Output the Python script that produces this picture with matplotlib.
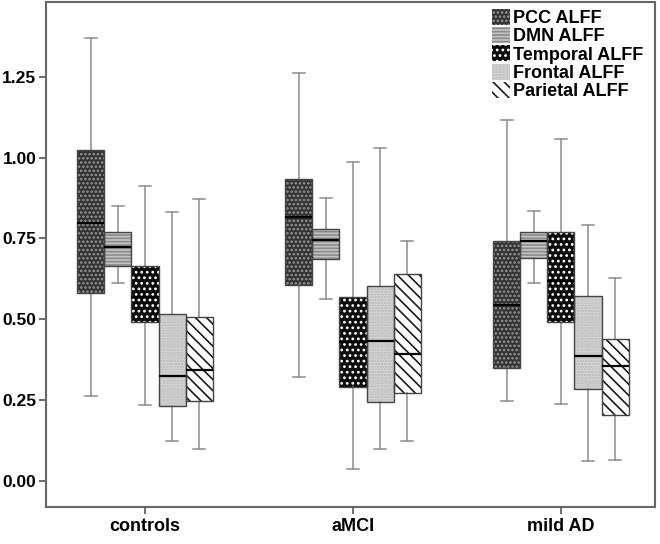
import matplotlib.pyplot as plt
from matplotlib.patches import PathPatch

plt.rcParams['font.family'] = ['Liberation Sans', 'DejaVu Sans']
plt.rcParams['hatch.linewidth'] = 1.2

groups = ["controls", "aMCI", "mild AD"]
series = ["PCC ALFF", "DMN ALFF", "Temporal ALFF", "Frontal ALFF", "Parietal ALFF"]

# box stats, one list per series: controls, aMCI, mild AD
pcc_whislo = [0.263, 0.322, 0.248]
pcc_q1 = [0.581, 0.606, 0.351]
pcc_med = [0.797, 0.815, 0.545]
pcc_q3 = [1.024, 0.933, 0.743]
pcc_whishi = [1.37, 1.262, 1.115]

dmn_whislo = [0.611, 0.563, 0.611]
dmn_q1 = [0.665, 0.687, 0.689]
dmn_med = [0.725, 0.746, 0.741]
dmn_q3 = [0.769, 0.780, 0.769]
dmn_whishi = [0.851, 0.875, 0.835]

tmp_whislo = [0.235, 0.039, 0.238]
tmp_q1 = [0.491, 0.290, 0.491]
tmp_med = [0.57, 0.43, 0.62]
tmp_q3 = [0.665, 0.570, 0.769]
tmp_whishi = [0.913, 0.985, 1.057]

frn_whislo = [0.124, 0.098, 0.062]
frn_q1 = [0.232, 0.245, 0.284]
frn_med = [0.325, 0.434, 0.387]
frn_q3 = [0.516, 0.604, 0.572]
frn_whishi = [0.833, 1.031, 0.792]

par_whislo = [0.099, 0.124, 0.065]
par_q1 = [0.248, 0.273, 0.204]
par_med = [0.343, 0.393, 0.357]
par_q3 = [0.508, 0.640, 0.439]
par_whishi = [0.873, 0.742, 0.627]

stats = [
    (pcc_whislo, pcc_q1, pcc_med, pcc_q3, pcc_whishi),
    (dmn_whislo, dmn_q1, dmn_med, dmn_q3, dmn_whishi),
    (tmp_whislo, tmp_q1, tmp_med, tmp_q3, tmp_whishi),
    (frn_whislo, frn_q1, frn_med, frn_q3, frn_whishi),
    (par_whislo, par_q1, par_med, par_q3, par_whishi),
]

# fill colour, hatch, hatch colour for each series
styles = [
    ("#333333", "....", "#9a9a9a"),
    ("#c4c4c4", "-----", "#8a8a8a"),
    ("#0c0c0c", "...", "#ffffff"),
    ("#d4d4d4", "......", "#bdbdbd"),
    ("#ffffff", "\\\\\\", "#1a1a1a"),
]

fig = plt.figure(figsize=(6.6, 5.44), dpi=100)
ax = fig.add_axes([0.0697, 0.068, 0.9227, 0.929])

bw = 0.13
handles = []
for i, (lo, q1, med, q3, hi) in enumerate(stats):
    bxp_stats = []
    for g in range(len(groups)):
        bxp_stats.append(dict(whislo=lo[g], q1=q1[g], med=med[g], q3=q3[g], whishi=hi[g], fliers=[]))
    pos = [g + (i - 2) * bw for g in range(len(groups))]
    fill, hatch, hcol = styles[i]
    res = ax.bxp(bxp_stats, positions=pos, widths=bw, capwidths=0.06, patch_artist=True,
                 showfliers=False, manage_ticks=False,
                 whiskerprops=dict(color="#8c8c8c", lw=1.1),
                 capprops=dict(color="#8c8c8c", lw=1.1),
                 medianprops=dict(color="black", lw=1.6),
                 boxprops=dict(facecolor=fill, edgecolor=hcol, hatch=hatch, lw=0))
    for b in res["boxes"]:
        b.set_zorder(2)
        ax.add_patch(PathPatch(b.get_path(), fill=False, edgecolor="#444444", lw=1.0, zorder=2.5))
    for m in res["medians"]:
        m.set_zorder(3)
    handles.append(res["boxes"][0])

ax.set_xlim(-0.476, 2.452)
ax.set_ylim(-0.08, 1.482)
ax.set_xticks(range(len(groups)))
ax.set_xticklabels(groups, fontweight="bold", fontsize=13)
ax.set_yticks([0, 0.25, 0.5, 0.75, 1.0, 1.25])
ax.set_yticklabels(["0.00", "0.25", "0.50", "0.75", "1.00", "1.25"], fontweight="bold", fontsize=12.5)
ax.tick_params(color="#555555", length=5, width=1.2, pad=2)
ax.tick_params(axis="x", pad=3)
for s in ax.spines.values():
    s.set_color("#666666")
    s.set_linewidth(1.5)

leg = ax.legend(handles, series, loc="upper left", bbox_to_anchor=(0.726, 0.993),
                frameon=False, prop=dict(weight="bold", size=13), borderpad=0.2,
                borderaxespad=0, handlelength=1.0, handleheight=1.0,
                handletextpad=0.2, labelspacing=0.0)

fig.savefig("out.png", dpi=100)
